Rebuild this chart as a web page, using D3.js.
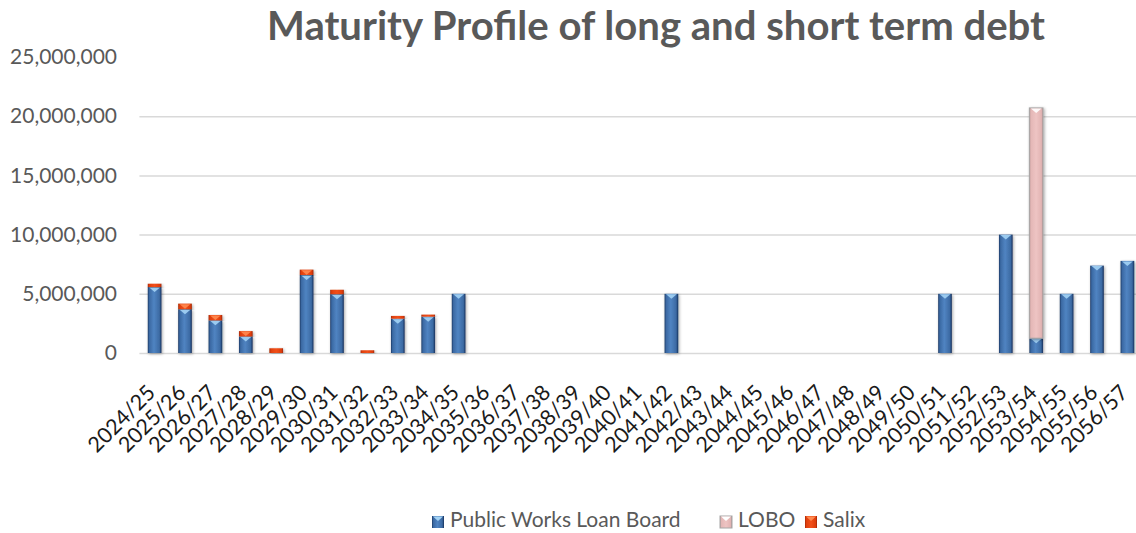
<!DOCTYPE html>
<html>
<head>
<meta charset="utf-8">
<script src="https://d3js.org/d3.v7.min.js"></script>
<style>
  body { margin: 0; background: #fff; }
  svg { display: block; font-family: Lato, "Open Sans", sans-serif; }
</style>
</head>
<body>
<div id="chart"></div>
<script>
// financial years on the x axis
const categories = ["2024/25", "2025/26", "2026/27", "2027/28", "2028/29", "2029/30", "2030/31",
    "2031/32", "2032/33", "2033/34", "2034/35", "2035/36", "2036/37", "2037/38", "2038/39",
    "2039/40", "2040/41", "2041/42", "2042/43", "2043/44", "2044/45", "2045/46", "2046/47",
    "2047/48", "2048/49", "2049/50", "2050/51", "2051/52", "2052/53", "2053/54", "2054/55",
    "2055/56", "2056/57"];

// values (£)
const pwlb = [5570000, 3700000, 2760000, 1400000, 0, 6590000, 4970000, 0, 2900000, 3070000, 5000000,
    0, 0, 0, 0, 0, 0, 5000000, 0, 0, 0, 0, 0, 0, 0, 0, 5000000, 0, 10000000, 1250000, 5000000,
    7380000, 7780000];
const lobo = [0, 0, 0, 0, 0, 0, 0, 0, 0, 0, 0, 0, 0, 0, 0, 0, 0, 0, 0, 0, 0, 0, 0, 0, 0, 0, 0, 0, 0,
    19450000, 0, 0, 0];
const salix = [280000, 470000, 450000, 450000, 400000, 450000, 370000, 230000, 230000, 170000, 0,
    0, 0, 0, 0, 0, 0, 0, 0, 0, 0, 0, 0, 0, 0, 0, 0, 0, 0, 0, 0, 0, 0];

const seriesNames = ["Public Works Loan Board", "LOBO", "Salix"];
const yTicks = [0, 5000000, 10000000, 15000000, 20000000, 25000000];

const width = 1136, height = 533;
const margin = { top: 57, left: 139.4, bottom: 353 };

const svg = d3.select('#chart').append('svg')
    .attr('width', width)
    .attr('height', height);

// gradients for the bevelled bars
const defs = svg.append('defs');
function hGrad(id, stops) {
    const g = defs.append('linearGradient').attr('id', id)
        .attr('x1', 0).attr('x2', 1).attr('y1', 0).attr('y2', 0);
    stops.forEach(s => g.append('stop').attr('offset', s[0]).attr('stop-color', s[1]));
}
hGrad('g-pwlb', [[0, '#1d3b66'], [0.12, '#3b69a3'], [0.45, '#5084c2'], [0.85, '#3c6aa3'], [1, '#16305a']]);
hGrad('g-lobo', [[0, '#b89696'], [0.12, '#e4b7b6'], [0.5, '#eec4c3'], [0.88, '#e2b4b3'], [1, '#b08e8e']]);
hGrad('g-salix', [[0, '#a52806'], [0.12, '#e0400e'], [0.5, '#f2501a'], [0.88, '#dd3d0c'], [1, '#9c2405']]);

const shadow = defs.append('filter').attr('id', 'shadow')
    .attr('x', '-50%').attr('y', '-10%').attr('width', '200%').attr('height', '120%');
shadow.append('feDropShadow').attr('dx', 1).attr('dy', 1).attr('stdDeviation', 1.8)
    .attr('flood-color', '#000').attr('flood-opacity', 0.35);

const fills = ['url(#g-pwlb)', 'url(#g-lobo)', 'url(#g-salix)'];
const bevels = ['#a3d3f5', '#ffffff', '#ff8a50'];

// scales
const x = d3.scaleBand()
    .domain(categories)
    .range([margin.left, margin.left + 33 * 30.4])
    .paddingInner(0.55)
    .paddingOuter(0.275);

const y = d3.scaleLinear()
    .domain([0, 25000000])
    .range([margin.bottom, margin.top]);

// grid lines
svg.append('g')
    .attr('transform', `translate(${margin.left},0)`)
    .call(d3.axisLeft(y).tickValues(yTicks.slice(0, 5)).tickSize(-(width - margin.left)).tickFormat(''))
    .call(g => g.select('.domain').remove())
    .call(g => g.selectAll('line').attr('stroke', '#d9d9d9').attr('stroke-width', 1.5));

// y axis labels
svg.append('g')
    .attr('transform', 'translate(121,0)')
    .call(d3.axisLeft(y).tickValues(yTicks).tickSize(0).tickFormat(d3.format(',')))
    .call(g => g.select('.domain').remove())
    .call(g => g.selectAll('text')
        .attr('x', -4)
        .attr('fill', '#595959')
        .style('font-size', '21px')
        .style('font-family', 'Lato, sans-serif'));

// x axis labels
svg.append('g')
    .attr('transform', `translate(0,${margin.bottom})`)
    .call(d3.axisBottom(x).tickSize(0))
    .call(g => g.select('.domain').remove())
    .call(g => g.selectAll('text')
        .attr('y', 0)
        .attr('dy', 0)
        .attr('transform', 'translate(2,41) rotate(-45)')
        .style('text-anchor', 'end')
        .attr('fill', '#1a1a1a')
        .style('font-size', '21.5px')
        .style('font-family', 'Lato, sans-serif'));

// stacked bars
const table = categories.map((c, i) => ({ cat: c, pwlb: pwlb[i], lobo: lobo[i], salix: salix[i] }));
const stack = d3.stack().keys(['pwlb', 'lobo', 'salix'])(table);

const bw = x.bandwidth();
stack.forEach((layer, k) => {
    const segs = layer.filter(d => d[1] - d[0] > 0);
    const g = svg.append('g').attr('class', 'series-' + layer.key);
    g.selectAll('rect')
        .data(segs)
        .enter()
        .append('rect')
        .attr('x', d => x(d.data.cat))
        .attr('y', d => y(d[1]))
        .attr('width', bw)
        .attr('height', d => y(d[0]) - y(d[1]))
        .attr('fill', fills[k])
        .attr('stroke', k === 1 ? '#a6a6a6' : 'none')
        .attr('stroke-width', k === 1 ? 1 : 0)
        .attr('filter', 'url(#shadow)');
    // top bevel
    g.selectAll('polygon')
        .data(segs.filter(d => y(d[0]) - y(d[1]) > 5))
        .enter()
        .append('polygon')
        .attr('points', d => {
            const x0 = x(d.data.cat), t = y(d[1]);
            return `${x0 + 1.5},${t + 0.5} ${x0 + bw - 1.5},${t + 0.5} ${x0 + bw / 2},${t + 5}`;
        })
        .attr('fill', bevels[k])
        .attr('opacity', 0.9);
});

// title, fitted to the width it has in the picture
const title = svg.append('text')
    .attr('x', 656)
    .attr('y', 40)
    .attr('text-anchor', 'middle')
    .attr('fill', '#595959')
    .style('font-weight', 'bold')
    .style('font-family', 'Lato, sans-serif')
    .style('font-size', '38px')
    .text('Maturity Profile of long and short term debt');
const tw = title.node().getComputedTextLength();
title.style('font-size', (38 * 778 / tw).toFixed(1) + 'px');

// legend
const legendX = [432, 720, 805];
const legend = svg.append('g').attr('class', 'legend');
seriesNames.forEach((name, k) => {
    legend.append('rect')
        .attr('x', legendX[k])
        .attr('y', 516)
        .attr('width', 12)
        .attr('height', 12)
        .attr('fill', fills[k])
        .attr('stroke', k === 1 ? '#a6a6a6' : 'none');
    legend.append('polygon')
        .attr('points', `${legendX[k] + 1},${516.5} ${legendX[k] + 11},${516.5} ${legendX[k] + 6},${521}`)
        .attr('fill', bevels[k]);
    legend.append('text')
        .attr('x', legendX[k] + 18)
        .attr('y', 527)
        .attr('fill', '#595959')
        .style('font-size', '21px')
        .style('font-family', 'Lato, sans-serif')
        .text(name);
});
</script>
</body>
</html>
